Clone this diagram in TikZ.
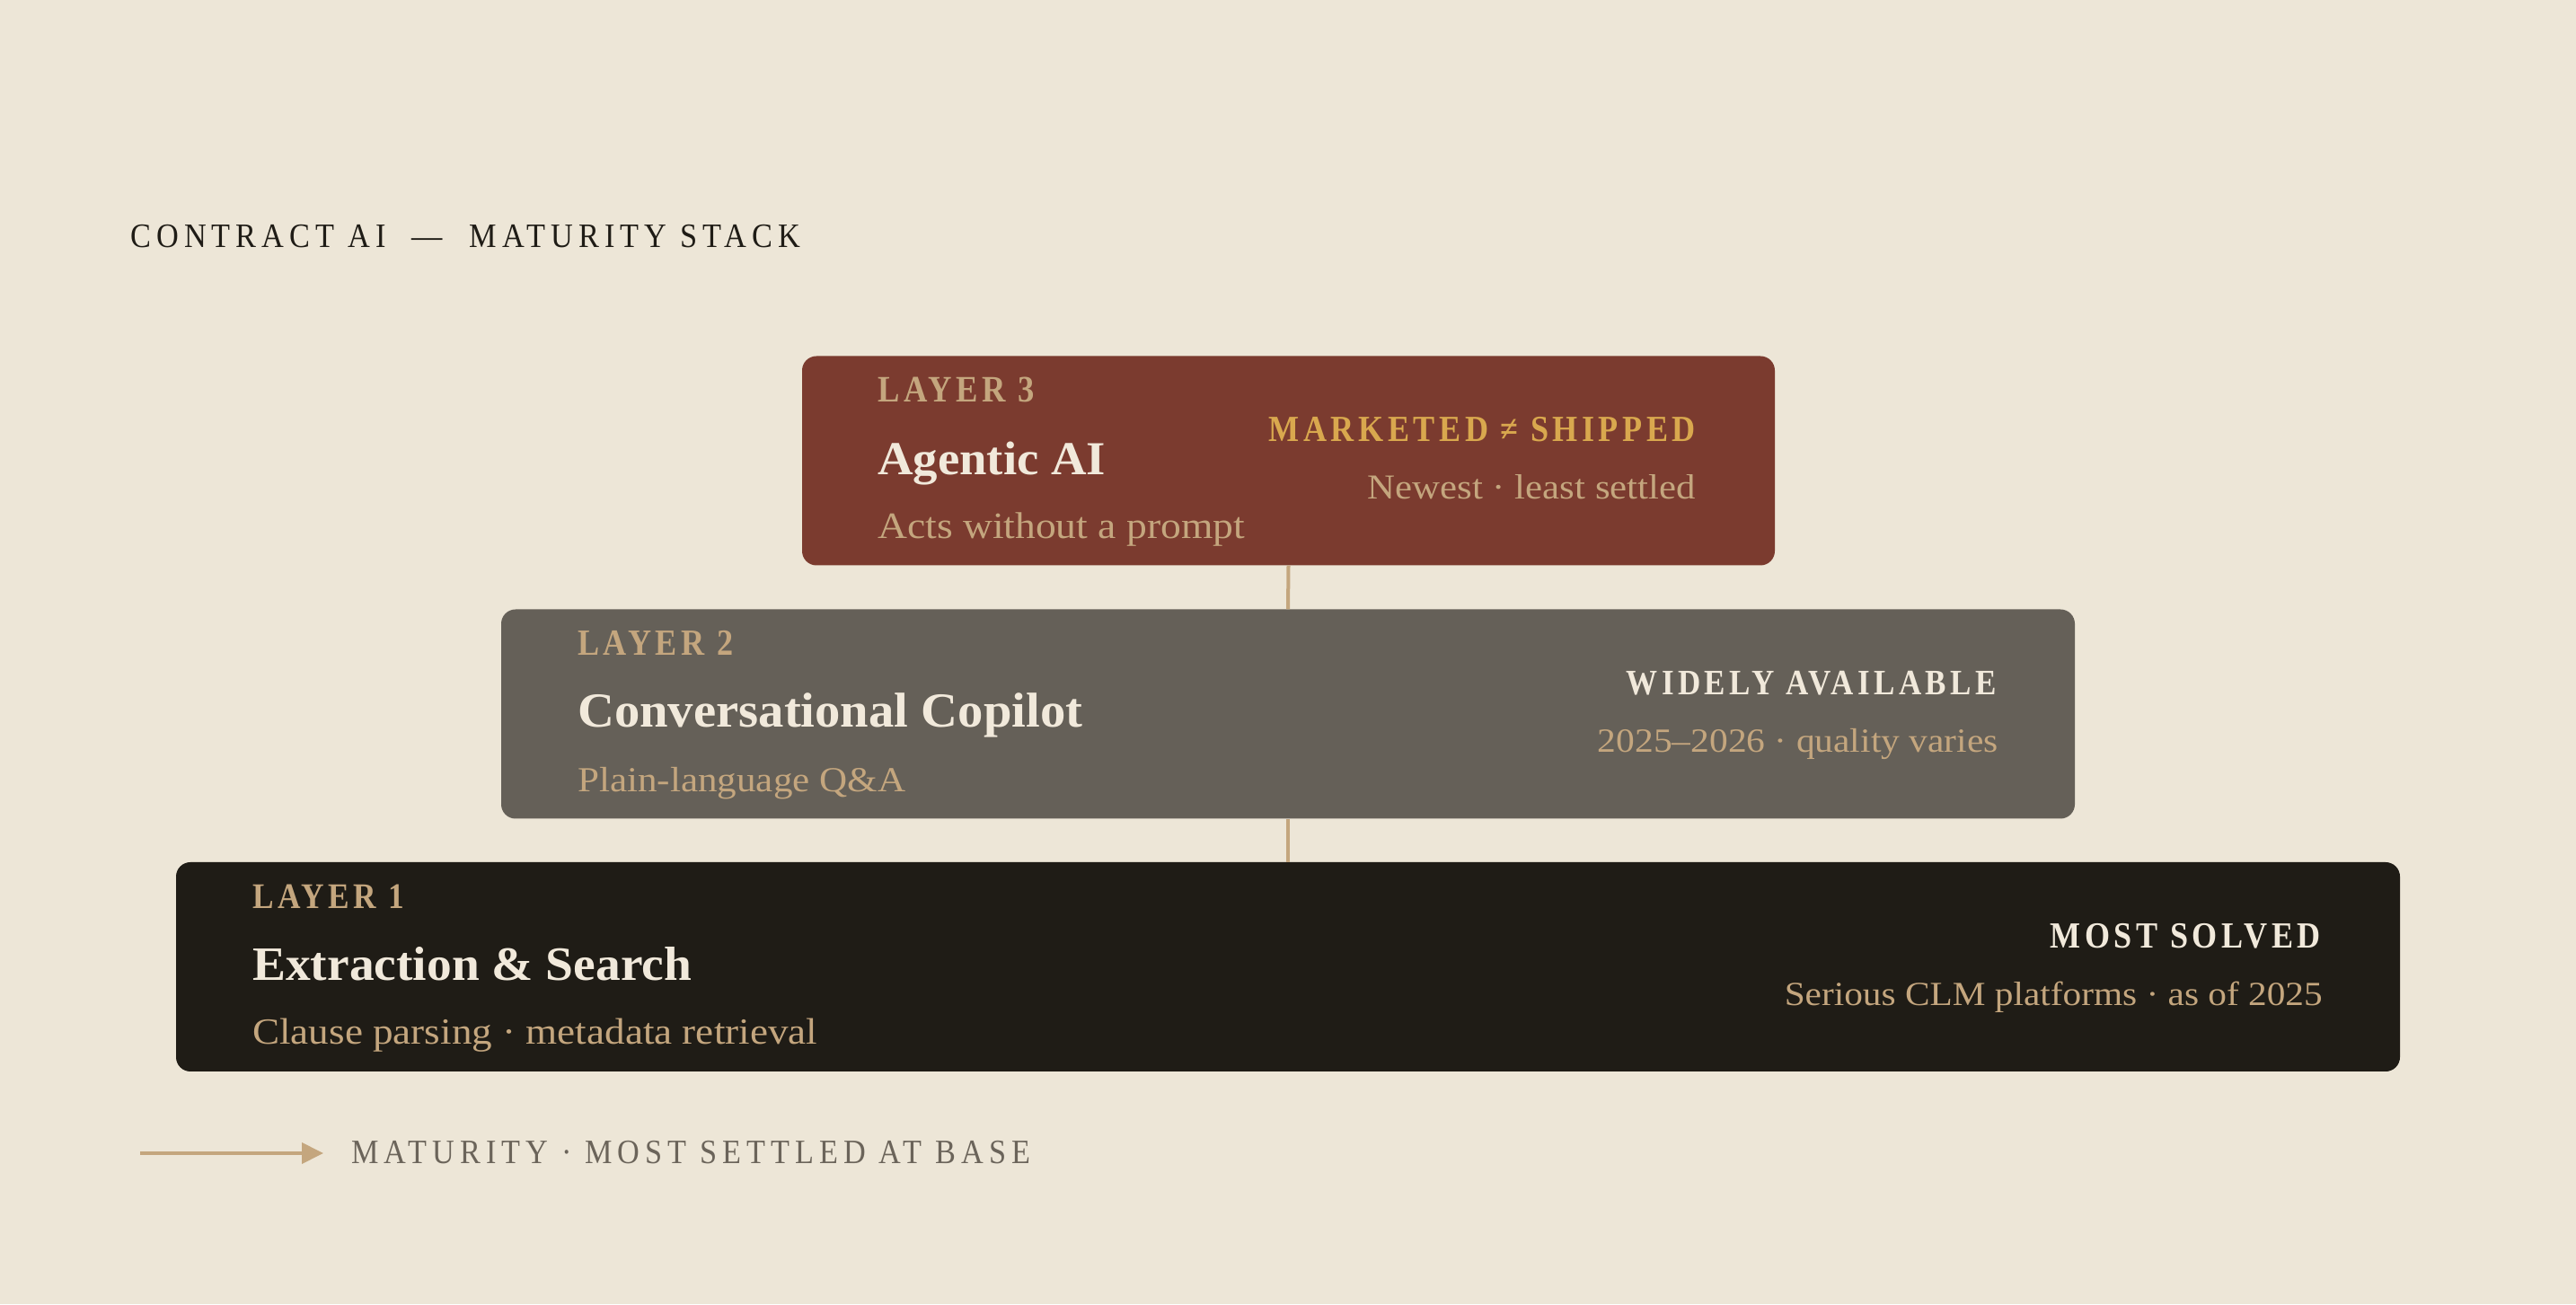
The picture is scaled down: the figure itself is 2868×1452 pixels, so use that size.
\documentclass[tikz,border=0pt]{standalone}
\usepackage{fontspec}
\usepackage{graphicx}
\usetikzlibrary{arrows.meta}
\newfontfamily\rfont{Liberation Serif}[FakeStretch=1.1]
\newfontfamily\bfontfam{Liberation Serif}[FakeStretch=1.04]
\newfontfamily\capsbfam{Liberation Serif}[FakeStretch=0.88,LetterSpace=11]
\newfontfamily\capsrfam{Liberation Serif}[FakeStretch=0.9,LetterSpace=16]
\definecolor{bgc}{HTML}{EDE6D7}
\definecolor{lthree}{HTML}{7B3B2F}
\definecolor{ltwo}{HTML}{656058}
\definecolor{lone}{HTML}{1F1C16}
\definecolor{tan}{HTML}{C4A67E}
\definecolor{cream}{HTML}{F1E9DB}
\definecolor{gold}{HTML}{D9A84E}
\definecolor{darkink}{HTML}{1F1C16}
\definecolor{greyink}{HTML}{6B645A}
\newcommand\fw[2]{\resizebox{#1pt}{!}{#2}}
\tikzset{
  layerbox/.style={rounded corners=16pt, inner sep=0pt, minimum height=233pt},
  txt/.style={inner sep=0pt, font=\fontsize{40}{48}\selectfont},
  lbl/.style={txt, anchor=base west},
  rlbl/.style={txt, anchor=base east},
  conn/.style={draw=tan, line width=4pt},
}
\begin{document}
\begin{tikzpicture}[x=1pt,y=1pt]
\fill[bgc] (0,0) rectangle (2868,1452);
\useasboundingbox (0,0) rectangle (2868,1452);

% title
\node[lbl, text=darkink] (title) at (145,1176) {\fw{746}{\capsrfam CONTRACT AI\ \ —\ \ MATURITY STACK}};

% boxes
\node[layerbox, fill=lthree, minimum width=1083pt] (L3) at (1434.5,939) {};
\node[layerbox, fill=ltwo, minimum width=1752pt] (L2) at (1434,657) {};
\node[layerbox, fill=lone, minimum width=2476pt] (L1) at (1434,375.5) {};

% connectors
\draw[conn] (L3.south) -- (L2.north);
\draw[conn] (L2.south) -- (L1.north);

% layer 3
\node[lbl, text=tan] (l3tag) at (977,1004) {\fw{175}{\capsbfam\bfseries LAYER 3}};
\node[lbl, text=cream] (l3name) at (977,923) {\fw{254}{\bfontfam\bfseries Agentic AI}};
\node[lbl, text=tan] (l3sub) at (977,852) {\fw{409}{\rfont Acts without a prompt}};
\node[rlbl, text=gold] (l3stat) at (1888,960) {\fw{475}{\capsbfam\bfseries MARKETED ≠ SHIPPED}};
\node[rlbl, text=tan] (l3note) at (1888,896) {\fw{365}{\rfont Newest · least settled}};

% layer 2
\node[lbl, text=tan] (l2tag) at (643,722) {\fw{173}{\capsbfam\bfseries LAYER 2}};
\node[lbl, text=cream] (l2name) at (643,642) {\fw{562}{\bfontfam\bfseries Conversational Copilot}};
\node[lbl, text=tan] (l2sub) at (643,570) {\fw{365}{\rfont Plain-language Q\&A}};
\node[rlbl, text=cream] (l2stat) at (2223,678) {\fw{412}{\capsbfam\bfseries WIDELY AVAILABLE}};
\node[rlbl, text=tan] (l2note) at (2225,614) {\fw{446}{\rfont 2025–2026 · quality varies}};

% layer 1
\node[lbl, text=tan] (l1tag) at (281,440) {\fw{169}{\capsbfam\bfseries LAYER 1}};
\node[lbl, text=cream] (l1name) at (281,360) {\fw{489}{\bfontfam\bfseries Extraction \& Search}};
\node[lbl, text=tan] (l1sub) at (281,289) {\fw{629}{\rfont Clause parsing · metadata retrieval}};
\node[rlbl, text=cream] (l1stat) at (2584,396) {\fw{301}{\capsbfam\bfseries MOST SOLVED}};
\node[rlbl, text=tan] (l1note) at (2586,332) {\fw{599}{\rfont Serious CLM platforms · as of 2025}};

% bottom legend
\coordinate (as) at (156,168);
\coordinate (ae) at (360,168);
\draw[draw=tan, fill=tan, line width=4pt, -{Triangle[length=24pt,width=23pt]}] (as) -- (ae);
\node[lbl, text=greyink] (legend) at (391,157) {\fw{756}{\capsrfam MATURITY · MOST SETTLED AT BASE}};
\end{tikzpicture}
\end{document}
